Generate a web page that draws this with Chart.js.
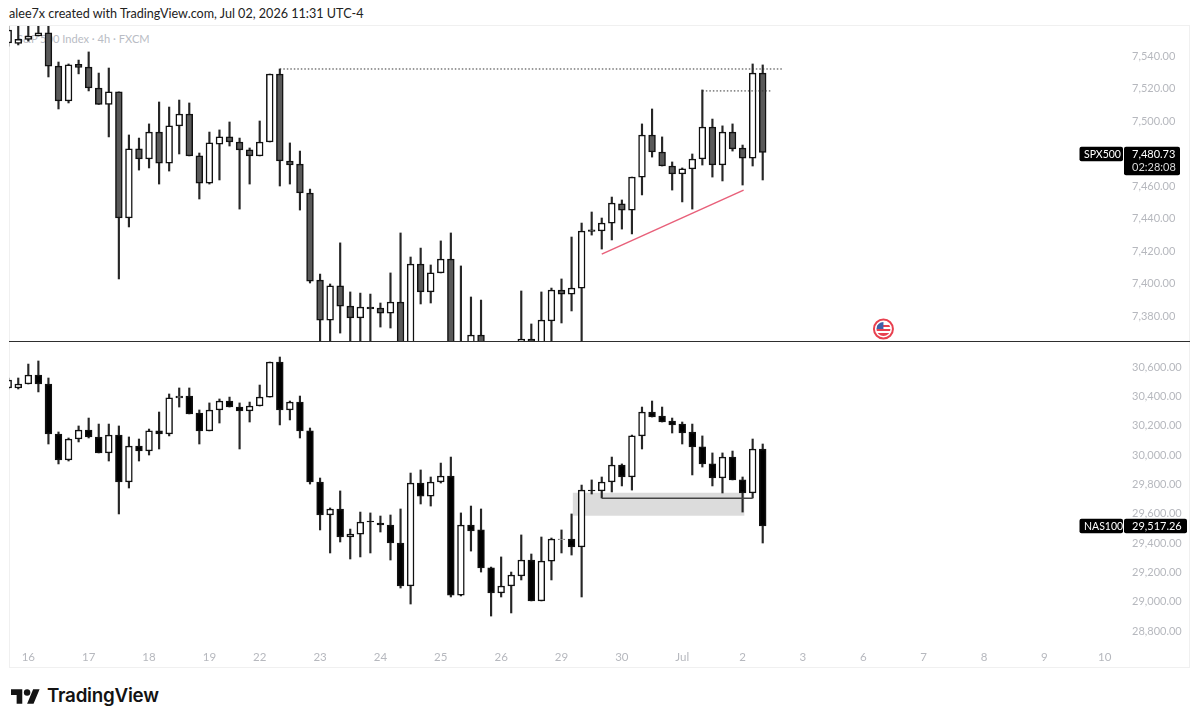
<!DOCTYPE html>
<html>
<head>
<meta charset="utf-8">
<title>SPX500 / NAS100 4h</title>
<script src="https://cdn.jsdelivr.net/npm/chart.js@4"></script>
<style>
  html, body { margin: 0; padding: 0; background: #fff; width: 1200px; height: 725px; overflow: hidden; }
  canvas { position: absolute; left: 0; }
  #frame { position: absolute; left: 9px; top: 25px; width: 1181px; height: 643px; border: 1px solid #f0f0f0; box-sizing: border-box; }
  #divider { position: absolute; left: 9px; top: 341px; width: 1181px; height: 1.2px; background: #2e2e2e; z-index: 3; }
  #credit { position: absolute; left: 9px; top: 6px; font: 12.6px Lato, sans-serif; color: #222; white-space: nowrap; }
  #paneTitle { position: absolute; left: 17px; top: 32px; font: 11.1px Lato, sans-serif; color: #b9bcc4; white-space: nowrap; }
  #logo { position: absolute; left: 11px; top: 689px; }
  #brand { position: absolute; left: 47px; top: 684px; font: 600 18.8px Inter, sans-serif; color: #131313; white-space: nowrap; letter-spacing: -0.25px; }
</style>
</head>
<body>
<div id="credit">alee7x created with TradingView.com, Jul 02, 2026 11:31 UTC-4</div>
<div id="frame"></div>
<div id="paneTitle">S&amp;P 500 Index · 4h · FXCM</div>
<canvas id="spx" width="1200" height="316" style="top:26px"></canvas>
<canvas id="nas" width="1200" height="325" style="top:343px"></canvas>
<div id="divider"></div>
<svg id="logo" width="29" height="15" viewBox="0 4 36 18"><path fill="#131313" d="M14 22H7V11H0V4h14v18zM28 22h-8l7.5-18h8L28 22z"/><circle fill="#131313" cx="20" cy="8" r="4"/></svg>
<div id="brand">TradingView</div>
<script>
// 4h bars, one value per bar
const spxOpen = [7548.0,7547.7,7550.2,7552.3,7554.2,7533.8,7512.3,7534.8,7533.2,7520.3,
  7510.2,7517.9,7440.3,7482.8,7476.6,7493.2,7474.1,7497.0,7504.3,7478.5,
  7461.8,7485.8,7490.2,7487.1,7482.2,7478.5,7487.1,7528.9,7475.4,7473.5,
  7455.7,7402.1,7377.5,7398.5,7386.1,7378.8,7385.5,7384.9,7381.8,7388.6,
  7350,7412.0,7394.8,7406.5,7415.1,7340,7355,7368.3,7350,7335,
  7340,7350,7365.8,7345,7376.9,7396.0,7393.5,7397.2,7433.0,7432.3,
  7437.2,7449.0,7445.2,7465.5,7491.4,7480.9,7472.3,7467.4,7470.5,7476.6,
  7496.3,7472.9,7493.2,7483.4,7477.2,7529.5];
const spxHigh = [7558.5,7559,7559,7559,7559,7536.3,7535.1,7537.5,7542.5,7529.5,
  7532.6,7517.9,7491.4,7489.5,7498.2,7511.7,7508.6,7512.9,7511.1,7480.3,
  7493.2,7494.5,7499.4,7489.5,7483.4,7500.0,7528.9,7532.0,7486.5,7481.5,
  7458.1,7405.8,7399.7,7425.0,7394.8,7394.1,7393.5,7388.0,7406.5,7431.1,
  7416.3,7421.8,7411.4,7426.2,7431.1,7410.8,7391.7,7389.8,7355,7345,
  7354,7395.4,7375.1,7394.8,7397.2,7402.8,7428.6,7437.2,7444.0,7440.3,
  7453.2,7451.4,7465.5,7498.2,7507.4,7490.2,7474.8,7471.1,7479.7,7519.1,
  7501.2,7497.0,7498.2,7485.2,7535.1,7534.5];
const spxLow = [7546.0,7546.8,7549.2,7552.3,7527.1,7507.4,7511.1,7529.0,7518.5,7510.2,
  7490.2,7402.8,7434.8,7469.8,7471.1,7461.2,7469.2,7479.7,7478.5,7452.0,
  7461.2,7463.7,7484.6,7445.8,7461.2,7478.5,7487.1,7460.0,7461.2,7445.2,
  7400.3,7355,7358,7369.5,7360,7358,7360,7373.2,7372.6,7345,
  7340,7387.4,7388.0,7406.5,7335,7335,7345,7345,7325,7330,
  7330,7345,7340,7340,7360,7375.7,7383.1,7355,7429.8,7421.2,
  7426.8,7433.5,7430.5,7454.5,7477.8,7472.3,7457.5,7450.2,7445.8,7472.9,
  7465.5,7463.1,7481.5,7460.6,7472.3,7463.7];
const spxClose = [7556.0,7550.2,7552.3,7554.2,7533.8,7512.3,7534.5,7532.9,7520.3,7510.2,
  7517.9,7440.3,7482.8,7476.6,7493.2,7474.1,7497.0,7504.3,7478.5,7461.8,
  7486.5,7490.2,7487.1,7482.2,7478.5,7487.1,7528.9,7475.4,7472.9,7455.7,
  7401.5,7377.5,7398.5,7386.1,7378.8,7385.5,7384.3,7381.8,7388.6,7350,
  7412.0,7394.8,7406.5,7415.1,7340,7355,7368.3,7350,7335,7340,
  7350,7365.8,7345,7377.5,7396.0,7393.5,7397.2,7432.3,7432.0,7437.2,
  7449.5,7445.2,7465.5,7491.4,7480.9,7472.3,7467.4,7470.5,7476.6,7496.3,
  7472.9,7493.2,7482.8,7477.2,7529.5,7480.73];

const nasOpen = [30457,30457,30484,30545,30484,30143,29966,30109,30170,30123,
  30014,30136,29816,30061,30027,30164,30143,30389,30402,30286,
  30164,30307,30368,30327,30300,30334,30395,30634,30307,30361,
  30164,29816,29591,29632,29441,29461,29550,29536,29523,29400,
  29107,29809,29720,29816,29857,29045,29523,29489,29230,29059,
  29107,29175,29284,29005,29277,29424,29427,29373,29761,29755,
  29816,29932,29850,30130,30293,30266,30232,30211,30157,30055,
  29939,29843,29986,29830,29741,30041];
const nasHigh = [30525,30525,30620,30641,30525,30157,30116,30198,30252,30211,
  30211,30198,30123,30109,30177,30293,30416,30457,30457,30307,
  30355,30382,30395,30355,30361,30477,30634,30668,30368,30402,
  30184,29843,29639,29755,29495,29611,29605,29584,29591,29632,
  29877,29898,29850,29945,29986,29605,29652,29632,29236,29305,
  29202,29455,29325,29441,29434,29489,29598,29795,29830,29850,
  29986,29939,30136,30327,30368,30327,30252,30225,30211,30130,
  30014,30014,30027,29850,30109,30075];
const nasLow = [30450,30450,30484,30430,30075,29939,29959,30089,30116,30014,
  29959,29598,29775,29959,30000,30041,30130,30327,30280,30075,
  30164,30218,30327,30041,30225,30334,30395,30205,30239,30116,
  29802,29489,29332,29407,29291,29305,29332,29475,29284,29093,
  28984,29666,29652,29809,29032,29039,29345,29202,28902,29032,
  28923,29148,29005,29005,29148,29332,29318,29032,29734,29707,
  29748,29789,29761,30041,30259,30225,30150,30075,29864,29918,
  29789,29741,29830,29611,29707,29400];
const nasClose = [30511,30484,30545,30484,30143,29966,30109,30170,30123,30014,
  30136,29816,30061,30027,30164,30143,30389,30402,30280,30164,
  30307,30368,30327,30300,30334,30395,30634,30307,30361,30164,
  29816,29591,29632,29441,29461,29543,29543,29523,29400,29107,
  29809,29720,29816,29857,29045,29523,29482,29230,29059,29107,
  29182,29284,29005,29277,29427,29427,29373,29761,29755,29816,
  29932,29850,30130,30293,30259,30225,30205,30150,30055,29939,
  29843,29986,29830,29741,30041,29517.26];

// time axis, labels sit on these bar numbers
const dayLabels = ["16","17","18","19","22","23","24","25","26","29","30","Jul","2","3","6","7","8","9","10"];
const dayBars = [2,8,14,20,25,31,37,43,49,55,61,67,73,79,85,91,97,103,109];

const spxTicks = [7540,7520,7500,7460,7440,7420,7400,7380];
const nasTicks = [30600,30400,30200,30000,29800,29600,29400,29200,29000,28800];

// drawn levels: [bar, price] end points
const spxHighLine = [[27,7532],[77,7532]];
const spxSwingLine = [[69,7518.5],[75.8,7518.5]];
const spxTrendLine = [[59,7418.1],[73.1,7457.5]];
const nasLevelLine = [[59,29705],[74,29705]];
const nasZoneBars = [56.1,73.2];
const nasZonePrices = [29586,29743];
const flagPoint = [87,7372];

const axisColor = "#b6b8be";

function priceText(v) {
  return v.toLocaleString("en-US", { minimumFractionDigits: 2, maximumFractionDigits: 2 });
}

function toPoints(pairs) {
  return pairs.map((p) => ({ x: p[0], y: p[1] }));
}

// one candle = a thin wick bar plus a body bar on top of it
function candleDatasets(open, high, low, close, downColor) {
  return [
    {
      data: open.map((o, i) => ({ x: i, y: [Math.min(o, close[i]), Math.max(o, close[i])] })),
      backgroundColor: open.map((o, i) => (close[i] < o ? downColor : "#ffffff")),
      borderColor: "#111111",
      borderWidth: 1.5,
      borderSkipped: false,
      barThickness: 6.8,
      grouped: false,
      order: 2,
    },
    {
      data: high.map((h, i) => ({ x: i, y: [low[i], h] })),
      backgroundColor: "#262626",
      borderWidth: 0,
      barThickness: 1.5,
      grouped: false,
      order: 3,
    },
  ];
}

function levelLine(points, color, dash, width) {
  return {
    type: "line",
    data: toPoints(points),
    borderColor: color,
    borderDash: dash,
    borderWidth: width,
    pointRadius: 0,
    order: 1,
  };
}

// black box(es) on the price scale, at the last close
function priceTag(name, close, countdown, lift) {
  return {
    id: "priceTag",
    afterDatasetsDraw(chart) {
      const ctx = chart.ctx;
      const y = chart.scales.y.getPixelForValue(close);
      const top = y - lift;
      ctx.save();
      ctx.fillStyle = "#000";
      ctx.beginPath();
      ctx.roundRect(1079.5, top, 43.5, 14.5, 2);
      ctx.fill();
      ctx.beginPath();
      ctx.roundRect(1124, top, countdown ? 56 : 63, countdown ? 28.5 : 14.5, 2);
      ctx.fill();
      ctx.textBaseline = "middle";
      ctx.textAlign = "left";
      ctx.fillStyle = "#fff";
      ctx.font = "10.5px Lato, sans-serif";
      ctx.fillText(name, 1084, top + 7.5);
      ctx.font = "11px Lato, sans-serif";
      ctx.fillText(priceText(close), 1132, top + 7.5);
      if (countdown) {
        ctx.fillStyle = "#d8d8d8";
        ctx.fillText(countdown, 1132, top + 21);
      }
      ctx.restore();
    },
  };
}

// economic event marker with the US flag
const flagMarker = {
  id: "flagMarker",
  afterDatasetsDraw(chart) {
    const ctx = chart.ctx;
    const cx = chart.scales.x.getPixelForValue(flagPoint[0]);
    const cy = chart.scales.y.getPixelForValue(flagPoint[1]);
    ctx.save();
    ctx.beginPath();
    ctx.arc(cx, cy, 9.5, 0, Math.PI * 2);
    ctx.fillStyle = "#fff";
    ctx.fill();
    ctx.lineWidth = 2;
    ctx.strokeStyle = "#e8404f";
    ctx.stroke();
    ctx.beginPath();
    ctx.arc(cx, cy, 7, 0, Math.PI * 2);
    ctx.clip();
    ctx.fillStyle = "#fff";
    ctx.fillRect(cx - 8, cy - 8, 16, 16);
    ctx.fillStyle = "#e8404f";
    ctx.fillRect(cx - 8, cy - 4, 16, 2);
    ctx.fillRect(cx - 8, cy, 16, 2);
    ctx.fillRect(cx - 8, cy + 4, 16, 4);
    ctx.fillStyle = "#3f5fa8";
    ctx.fillRect(cx - 8, cy - 8, 8, 8);
    ctx.restore();
  },
};

function buildChart(id, datasets, yMin, yMax, yTicks, hasTimeAxis, plugins) {
  return new Chart(document.getElementById(id), {
    type: "bar",
    data: { datasets: datasets },
    options: {
      responsive: false,
      animation: false,
      layout: { autoPadding: false, padding: { left: 9, right: 10, top: 0, bottom: 0 } },
      plugins: { legend: { display: false }, tooltip: { enabled: false } },
      scales: {
        x: {
          type: "linear",
          offset: false,
          min: 0.08,
          max: 111.31,
          display: hasTimeAxis,
          grid: { display: false, offset: false },
          border: { display: false },
          afterBuildTicks: (scale) => {
            scale.ticks = dayBars.map((b) => ({ value: b }));
          },
          afterFit: (scale) => {
            scale.height = hasTimeAxis ? 28 : 0;
            scale.paddingLeft = 0;
            scale.paddingRight = 0;
          },
          ticks: {
            autoSkip: false,
            maxRotation: 0,
            padding: 2,
            color: axisColor,
            font: { family: "Lato", size: 11.5 },
            callback: (v) => dayLabels[dayBars.indexOf(v)],
          },
        },
        y: {
          position: "right",
          min: yMin,
          max: yMax,
          grid: { display: false, drawTicks: false },
          border: { display: false },
          afterBuildTicks: (scale) => {
            scale.ticks = yTicks.map((t) => ({ value: t }));
          },
          afterFit: (scale) => {
            scale.width = 62;
            scale.paddingTop = 0;
            scale.paddingBottom = 0;
          },
          ticks: {
            padding: 4,
            color: axisColor,
            font: { family: "Lato", size: 11 },
            callback: (v) => priceText(v),
          },
        },
      },
    },
    plugins: plugins,
  });
}

buildChart(
  "spx",
  [
    levelLine(spxHighLine, "#333333", [1.5, 2], 1),
    levelLine(spxSwingLine, "#333333", [1.5, 2], 1),
    levelLine(spxTrendLine, "#e8607a", [], 1.5),
    ...candleDatasets(spxOpen, spxHigh, spxLow, spxClose, "#595959"),
  ],
  7364.0,
  7558.46,
  spxTicks,
  false,
  [priceTag("SPX500", spxClose[spxClose.length - 1], "02:28:08", 5.5), flagMarker]
);

buildChart(
  "nas",
  [
    levelLine(nasLevelLine, "#444444", [], 1.5),
    {
      type: "line",
      data: nasZoneBars.map((b) => ({ x: b, y: nasZonePrices[0] })),
      fill: { value: nasZonePrices[1] },
      backgroundColor: "#dcdcdc",
      borderWidth: 0,
      pointRadius: 0,
      order: 4,
    },
    ...candleDatasets(nasOpen, nasHigh, nasLow, nasClose, "#000000"),
  ],
  28738.7,
  30763.6,
  nasTicks,
  true,
  [priceTag("NAS100", nasClose[nasClose.length - 1], null, 7)]
);
</script>
</body>
</html>
